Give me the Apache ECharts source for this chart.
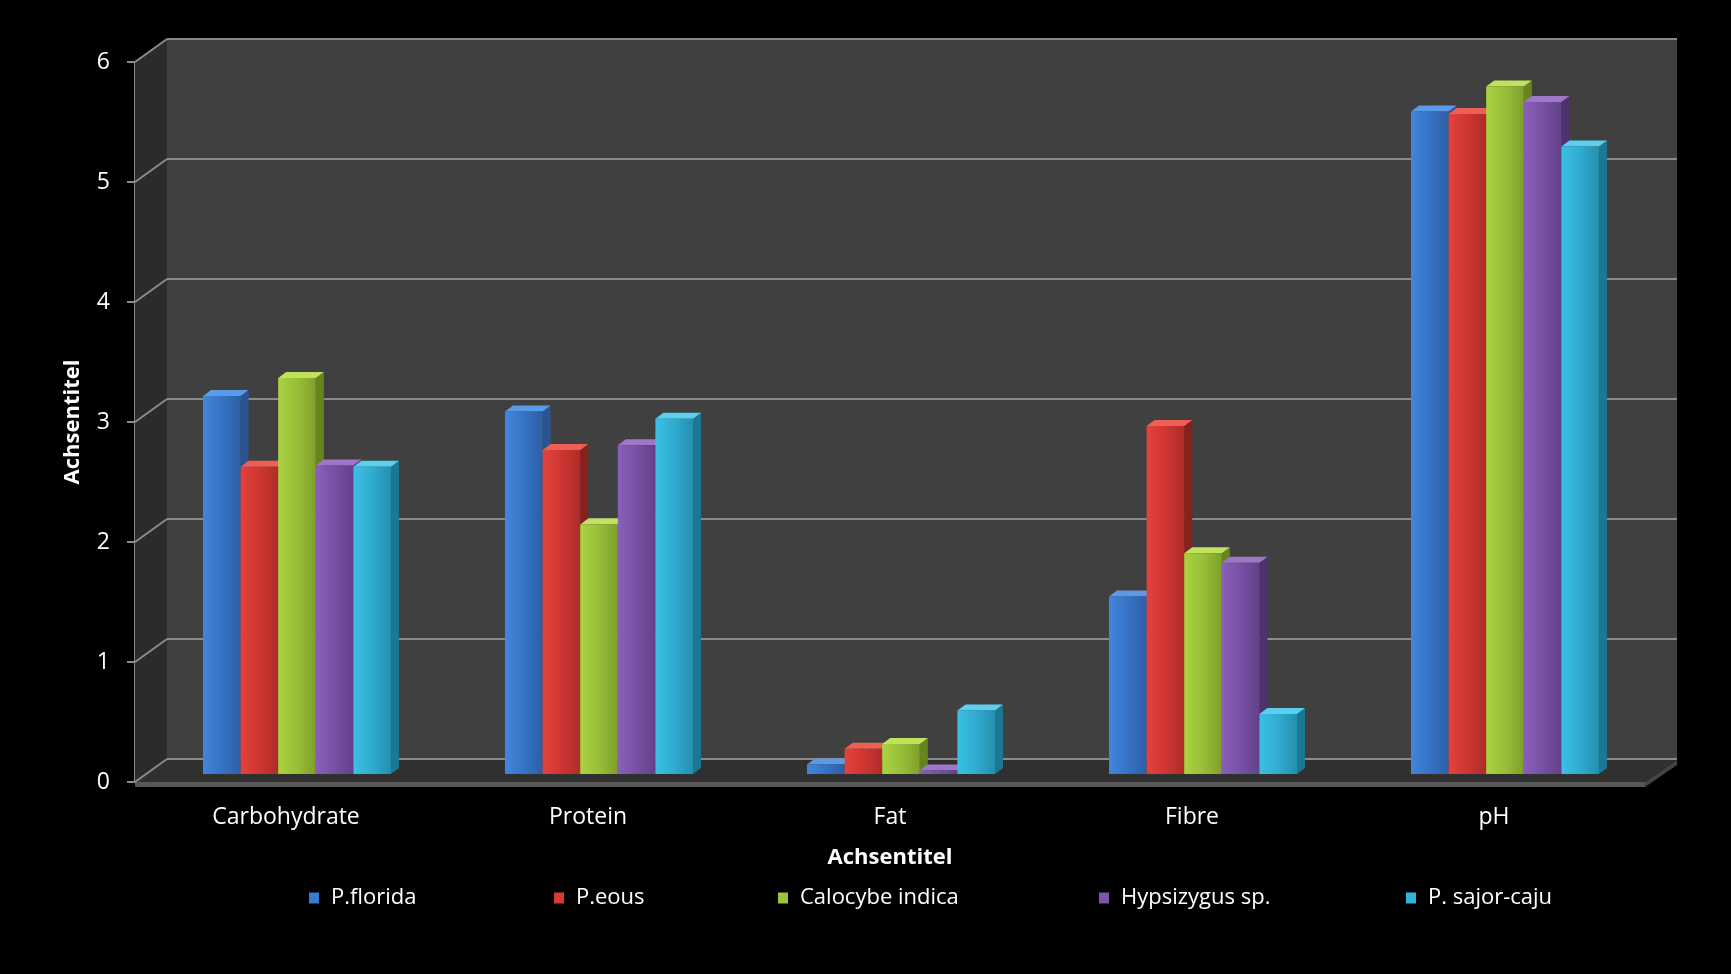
<!DOCTYPE html>
<html>
<head>
<meta charset="utf-8">
<title>Mushroom composition</title>
<script src="https://cdn.jsdelivr.net/npm/echarts@6/dist/echarts.min.js"></script>
<style>
  html, body { margin: 0; padding: 0; background: #000; }
  #chart { width: 1731px; height: 974px; }
</style>
</head>
<body>
<div id="chart"></div>
<script>
// Categories and measured values per species
const categories = ['Carbohydrate', 'Protein', 'Fat', 'Fibre', 'pH'];
const seriesNames = ['P.florida', 'P.eous', 'Calocybe indica', 'Hypsizygus sp.', 'P. sajor-caju'];
const pFlorida   = [3.15, 3.02, 0.08, 1.48, 5.52];
const pEous      = [2.56, 2.70, 0.21, 2.90, 5.50];
const calocybe   = [3.30, 2.08, 0.25, 1.84, 5.73];
const hypsizygus = [2.57, 2.74, 0.03, 1.76, 5.60];
const sajorCaju  = [2.56, 2.96, 0.53, 0.50, 5.23];
const yTicks = [0, 1, 2, 3, 4, 5, 6];

const seriesValues = [pFlorida, pEous, calocybe, hypsizygus, sajorCaju];

// Face colours for each box: front gradient, top and side
const palette = [
  { base: '#3a7bd0', f0: '#4286dc', f1: '#3673c4', f2: '#2c5fa6', top: '#5b9ae6', side: '#2a5390' },
  { base: '#d63a35', f0: '#e2423c', f1: '#cf3632', f2: '#ad2c29', top: '#ef5f55', side: '#88201e' },
  { base: '#9cc43a', f0: '#abd342', f1: '#98bf38', f2: '#7f9f2c', top: '#c0e25c', side: '#66851f' },
  { base: '#7d55aa', f0: '#8a60b8', f1: '#7850a4', f2: '#63418a', top: '#a077c8', side: '#4d326e' },
  { base: '#33b4da', f0: '#3bc0e6', f1: '#30acd0', f2: '#258fae', top: '#5ad0f0', side: '#1c7892' }
];

// Depth of the chart box and placement of the boxes inside it
const DX = 32, DY = -23;
const BAR_SHIFT_X = 11, BAR_SHIFT_Y = -8;
const BAR_DEPTH_X = 8, BAR_DEPTH_Y = -6;
const BAR_FRACTION = 0.1245;

const FONT = 'Open Sans';

const chart = echarts.init(document.getElementById('chart'), null, { renderer: 'canvas' });

function frameItem(params, api) {
  const cs = params.coordSys;
  const L = cs.x, R = cs.x + cs.width;
  const v = api.value(1);
  const y = api.coord([0, v])[1];
  const children = [];
  if (params.dataIndex === 0) {
    const y0 = api.coord([0, 0])[1];
    const yTop = api.coord([0, yTicks[yTicks.length - 1]])[1];
    // side wall
    children.push({
      type: 'polygon',
      shape: { points: [[L, y0], [L + DX, y0 + DY], [L + DX, yTop + DY], [L, yTop]] },
      style: { fill: '#2b2b2b' }
    });
    // floor top
    children.push({
      type: 'polygon',
      shape: { points: [[L, y0], [L + DX, y0 + DY + 1], [R + DX, y0 + DY + 1], [R, y0]] },
      style: { fill: '#303030' }
    });
    // floor front edge
    children.push({
      type: 'rect',
      shape: { x: L, y: y0, width: R - L, height: 5 },
      style: { fill: '#585858' }
    });
    // floor right edge
    children.push({
      type: 'polygon',
      shape: { points: [[R, y0], [R + DX, y0 + DY + 1], [R + DX, y0 + DY + 6], [R, y0 + 5]] },
      style: { fill: '#444444' }
    });
  }
  // grid line across the side wall
  children.push({
    type: 'line',
    shape: { x1: L, y1: y, x2: L + DX, y2: y + DY },
    style: { stroke: '#8c8c8c', lineWidth: 2 }
  });
  return { type: 'group', children: children };
}

function makeBarRenderer(k) {
  const c = palette[k];
  return function (params, api) {
    const ci = api.value(0);
    const v = api.value(1);
    const band = api.size([1, 0])[0];
    const w = band * BAR_FRACTION;
    const p0 = api.coord([ci, 0]);
    const p1 = api.coord([ci, v]);
    const x0 = p0[0] - 2.5 * w + k * w + BAR_SHIFT_X;
    const x1 = x0 + w;
    const yb = p0[1] + BAR_SHIFT_Y;
    const yt = p1[1] + BAR_SHIFT_Y;
    return {
      type: 'group',
      children: [
        {
          type: 'polygon',
          shape: { points: [[x1, yb], [x1 + BAR_DEPTH_X, yb + BAR_DEPTH_Y], [x1 + BAR_DEPTH_X, yt + BAR_DEPTH_Y], [x1, yt]] },
          style: { fill: c.side }
        },
        {
          type: 'polygon',
          shape: { points: [[x0, yt], [x1, yt], [x1 + BAR_DEPTH_X, yt + BAR_DEPTH_Y], [x0 + BAR_DEPTH_X, yt + BAR_DEPTH_Y]] },
          style: { fill: c.top }
        },
        {
          type: 'rect',
          shape: { x: x0, y: yt, width: w, height: yb - yt },
          style: {
            fill: new echarts.graphic.LinearGradient(0, 0, 1, 0, [
              { offset: 0, color: c.f0 },
              { offset: 0.5, color: c.f1 },
              { offset: 1, color: c.f2 }
            ])
          }
        }
      ]
    };
  };
}

const legendLefts = [309, 554, 778, 1099, 1406];

const option = {
  backgroundColor: '#000000',
  animation: false,
  grid: [
    { left: 135, top: 62, width: 1510, height: 720, containLabel: false },
    { left: 135 + DX, top: 62 + DY, width: 1510, height: 720, show: true, backgroundColor: '#404040', borderWidth: 0 }
  ],
  xAxis: [
    {
      type: 'category',
      gridIndex: 0,
      data: categories,
      boundaryGap: true,
      axisLine: { show: false },
      axisTick: { show: false },
      axisLabel: { color: '#ffffff', fontSize: 23, fontFamily: FONT, margin: 24 },
      name: 'Achsentitel',
      nameLocation: 'middle',
      nameGap: 65,
      nameTextStyle: { color: '#ffffff', fontSize: 22, fontWeight: 'bold', fontFamily: FONT }
    },
    {
      type: 'category',
      gridIndex: 1,
      data: categories,
      show: false
    }
  ],
  yAxis: [
    {
      type: 'value',
      gridIndex: 0,
      min: yTicks[0],
      max: yTicks[yTicks.length - 1],
      interval: 1,
      axisLine: { show: true, lineStyle: { color: '#8c8c8c', width: 2 } },
      axisTick: { show: true, length: 8, lineStyle: { color: '#8c8c8c', width: 2 } },
      axisLabel: { color: '#ffffff', fontSize: 23, fontFamily: FONT, margin: 25 },
      splitLine: { show: false },
      name: 'Achsentitel',
      nameLocation: 'middle',
      nameGap: 51,
      nameRotate: 90,
      nameTextStyle: { color: '#ffffff', fontSize: 22, fontWeight: 'bold', fontFamily: FONT }
    },
    {
      type: 'value',
      gridIndex: 1,
      min: yTicks[0],
      max: yTicks[yTicks.length - 1],
      interval: 1,
      axisLine: { show: false },
      axisTick: { show: false },
      axisLabel: { show: false },
      splitLine: { show: true, lineStyle: { color: '#8a8a8a', width: 2 } }
    }
  ],
  legend: seriesNames.map(function (name, i) {
    return {
      data: [name],
      left: legendLefts[i],
      top: 887,
      padding: 0,
      icon: 'rect',
      itemWidth: 10,
      itemHeight: 11,
      selectedMode: false,
      textStyle: { color: '#ffffff', fontSize: 22, fontFamily: FONT, padding: [0, 0, 0, 7] }
    };
  }),
  series: [
    {
      type: 'custom',
      name: 'frame',
      xAxisIndex: 0,
      yAxisIndex: 0,
      z: 1,
      silent: true,
      renderItem: frameItem,
      data: yTicks.map(function (v) { return [0, v]; })
    }
  ].concat(seriesNames.map(function (name, k) {
    return {
      type: 'custom',
      name: name,
      xAxisIndex: 0,
      yAxisIndex: 0,
      z: 3,
      itemStyle: { color: palette[k].base },
      renderItem: makeBarRenderer(k),
      data: seriesValues[k].map(function (v, i) { return [i, v]; })
    };
  }))
};

chart.setOption(option);
</script>
</body>
</html>
